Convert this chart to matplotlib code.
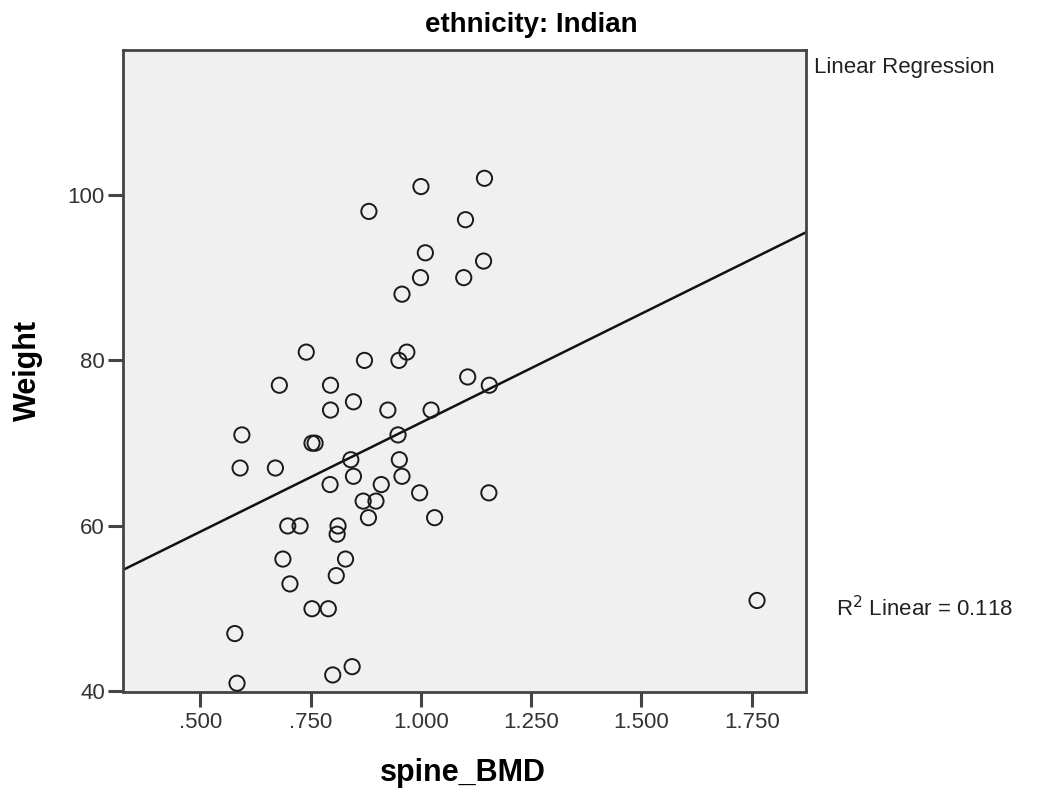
import numpy as np
import matplotlib
matplotlib.use("Agg")
import matplotlib.pyplot as plt

plt.rcParams['font.family'] = ['Liberation Sans', 'DejaVu Sans']

# Data (spine_BMD vs Weight, ethnicity: Indian)
spine_bmd = [1.144, 1.000, 0.882, 1.101, 1.010, 1.142, 0.999, 1.097, 0.957,
             0.740, 0.968, 0.950, 0.872, 0.679, 0.795, 1.106, 1.155, 0.847,
             0.795, 0.925, 1.023, 0.594, 0.948, 0.753, 0.760, 0.841, 0.951,
             0.590, 0.670, 0.847, 0.957, 0.794, 0.910, 0.997, 1.154, 0.869,
             0.898, 0.881, 1.031, 0.698, 0.726, 0.812, 0.810, 0.687, 0.829,
             0.703, 0.808, 0.753, 0.790, 0.578, 0.844, 0.800, 0.583, 1.762]
weight = [102, 101, 98, 97, 93, 92, 90, 90, 88,
          81, 81, 80, 80, 77, 77, 78, 77, 75,
          74, 74, 74, 71, 71, 70, 70, 68, 68,
          67, 67, 66, 66, 65, 65, 64, 64, 63,
          63, 61, 61, 60, 60, 60, 59, 56, 56,
          53, 54, 50, 50, 47, 43, 42, 41, 51]

x_ticks = [0.5, 0.75, 1.0, 1.25, 1.5, 1.75]
x_tick_labels = ['.500', '.750', '1.000', '1.250', '1.500', '1.750']
y_ticks = [40, 60, 80, 100]
r2_text = "R$^2$ Linear = 0.118"

W, H = 1043, 792
fig = plt.figure(figsize=(W / 100, H / 100), dpi=100)
fig.patch.set_facecolor('white')
ax = fig.add_axes([123 / W, 1 - 691.5 / H, (806 - 123) / W, (691.5 - 50) / H])
ax.set_facecolor('#f0f0f0')

xlim = (0.3245, 1.873)
ylim = (40, 117.5)

ax.scatter(spine_bmd, weight, s=120, facecolors='none', edgecolors='#1a1a1a',
           linewidths=1.4, zorder=3, clip_on=False)

# Linear regression line through the data
slope, intercept = np.polyfit(spine_bmd, weight, 1)
xs = np.array(xlim)
ax.plot(xs, intercept + slope * xs, color='#111111', lw=1.8, zorder=2)

ax.set_xlim(*xlim)
ax.set_ylim(*ylim)
ax.set_xticks(x_ticks)
ax.set_xticklabels(x_tick_labels)
ax.set_yticks(y_ticks)

for sp in ax.spines.values():
    sp.set_color('#444444')
    sp.set_linewidth(2.0)

ax.tick_params(axis='both', direction='out', length=11, width=2.2, color='#444444',
               labelsize=16, labelcolor='#333333')
ax.tick_params(axis='x', pad=4)
ax.tick_params(axis='y', pad=2)

ax.set_xlabel('spine_BMD', fontsize=22, fontweight='bold', va='center')
ax.xaxis.set_label_coords((463 - 123) / 683, -(773 - 691.5) / 641.5)
ax.set_ylabel('Weight', fontsize=22, fontweight='bold', va='center')
ax.yaxis.set_label_coords((28 - 123) / 683, (691.5 - 371) / 641.5)

fig.text(531 / W, 1 - 25 / H, 'ethnicity: Indian', fontsize=20, fontweight='bold',
         ha='center', va='center')
fig.text(814 / W, 1 - 68 / H, 'Linear Regression', fontsize=16, ha='left', va='center',
         color='#222222')
fig.text(836 / W, 1 - 609 / H, r2_text, fontsize=16, ha='left', va='center',
         color='#222222')

fig.savefig('out.png', dpi=100, facecolor='white')
